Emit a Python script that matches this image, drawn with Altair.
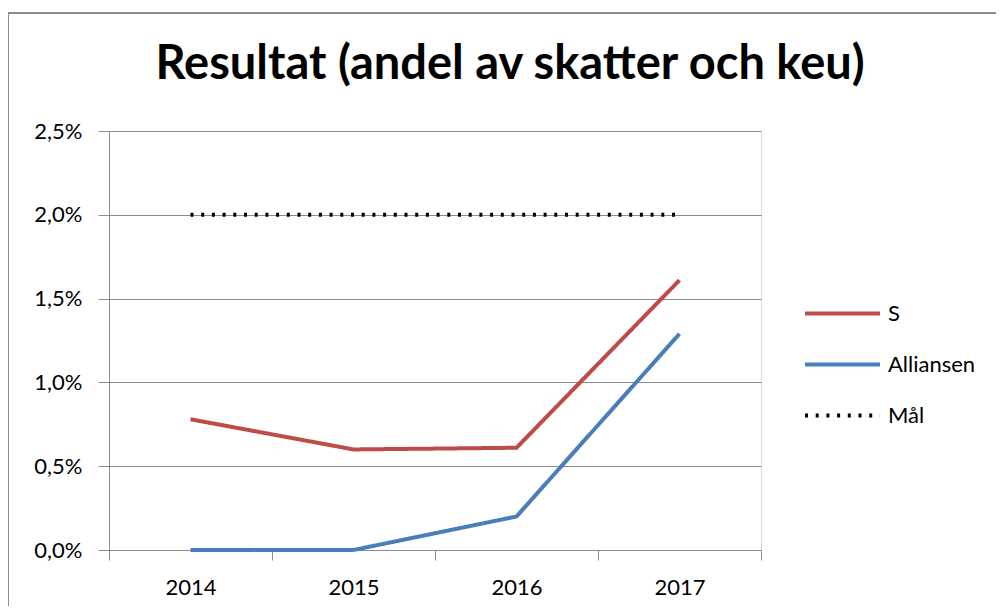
import altair as alt
import pandas as pd

years = ["2014", "2015", "2016", "2017"]
s_vals = [0.78, 0.60, 0.61, 1.61]
alliansen_vals = [0.00, 0.00, 0.20, 1.29]
mal_vals = [2.0, 2.0, 2.0, 2.0]
series = ["S", "Alliansen", "Mål"]
colors = ["#BE4B48", "#4A7EBB", "#000000"]
dashes = [[1, 0], [1, 0], [3, 7.7]]
y_ticks = [0, 0.005, 0.01, 0.015, 0.02, 0.025]

rows = []
for name, vals in zip(series, [s_vals, alliansen_vals, mal_vals]):
    for yr, v in zip(years, vals):
        rows.append({"År": yr, "Serie": name, "Värde": v / 100})
df = pd.DataFrame(rows)

FONT = "Lato"
GRAY = "#8C8C8C"
LBL = 22

legend_opts = dict(title=None, orient="none", legendX=694, legendY=143, padding=0,
                   symbolType="stroke", symbolSize=5625, symbolStrokeWidth=4,
                   rowPadding=-27, labelFont=FONT, labelFontSize=LBL,
                   labelColor="#000", labelOffset=6)

lines = alt.Chart(df).mark_line(strokeWidth=4).encode(
    x=alt.X("År:N", sort=years, title=None,
            scale=alt.Scale(paddingInner=0, paddingOuter=0),
            axis=alt.Axis(tickBand="extent", labelAngle=0, tickSize=10,
                          tickColor=GRAY, domainColor=GRAY, grid=False,
                          labelFont=FONT, labelFontSize=LBL, labelColor="#000",
                          labelPadding=17, labelBaseline="top")),
    y=alt.Y("Värde:Q", title=None,
            scale=alt.Scale(domain=[0, 0.025], nice=False),
            axis=alt.Axis(values=y_ticks, tickSize=11, tickColor=GRAY,
                          domainColor=GRAY, gridColor=GRAY, grid=True,
                          labelExpr="replace(format(datum.value, '.1%'), '.', ',')",
                          labelFont=FONT, labelFontSize=LBL, labelColor="#000",
                          labelPadding=16)),
    color=alt.Color("Serie:N", sort=series,
                    scale=alt.Scale(domain=series, range=colors),
                    legend=alt.Legend(**legend_opts)),
    strokeDash=alt.StrokeDash("Serie:N", sort=series,
                              scale=alt.Scale(domain=series, range=dashes),
                              legend=alt.Legend(**legend_opts)),
)

border_data = alt.Data(values=[{"k": 1}])
top_border = alt.Chart(border_data).mark_rule(color=GRAY, strokeWidth=2).encode(
    x=alt.value(-101), x2=alt.value(900), y=alt.value(-118))
left_border = alt.Chart(border_data).mark_rule(color=GRAY, strokeWidth=2).encode(
    x=alt.value(-101), y=alt.value(-118), y2=alt.value(700))

chart = alt.layer(top_border, left_border, lines).properties(
    width=652, height=419,
    title=alt.TitleParams("Resultat (andel av skatter och keu)", font=FONT,
                          fontSize=47, fontWeight="bold", anchor="middle",
                          dx=75, dy=114, offset=0, baseline="alphabetic", color="#000"),
    autosize=alt.AutoSizeParams(type="none"),
    padding={"left": 101, "top": 123, "right": 235, "bottom": 56},
).configure_view(stroke=None).configure(background="white")

chart.save("out.html", embed_options={"renderer": "svg", "actions": False})
